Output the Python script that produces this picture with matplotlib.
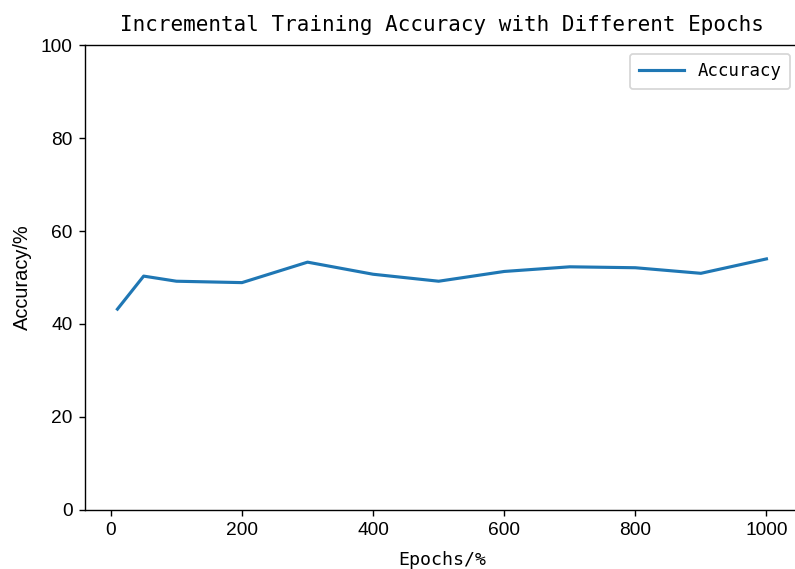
import matplotlib
matplotlib.use("Agg")
import matplotlib.pyplot as plt

# epochs and accuracy
epochs = [10, 50, 100, 200, 300, 400, 500, 600, 700, 800, 900, 1000]
accuracy = [43.2, 50.3, 49.2, 48.9, 53.3, 50.7, 49.2, 51.3, 52.3, 52.1, 50.9, 54.0]
y_ticks = [0, 20, 40, 60, 80, 100]

plt.rcParams['font.family'] = ['Liberation Sans', 'DejaVu Sans']
mono = ['DejaVu Sans Mono']

fig = plt.figure(figsize=(6.36, 4.552), dpi=125)
ax = fig.add_axes([0.1069, 0.1037, 0.898, 0.8172])

ax.plot(epochs, accuracy, label='Accuracy', linewidth=1.8)
ax.set_ylim(0, 100)
ax.set_yticks(y_ticks)

ax.set_title('Incremental Training Accuracy with Different Epochs', family=mono, fontsize=12, pad=8)
ax.set_xlabel('Epochs/%', family=mono, fontsize=10.5, labelpad=7)
ax.set_ylabel('Accuracy/%', fontsize=11.5, labelpad=5)
ax.tick_params(labelsize=11)
ax.legend(prop={'family': mono, 'size': 10}, handlelength=2.6, borderpad=0.5)

fig.savefig('out.png', dpi=125)
